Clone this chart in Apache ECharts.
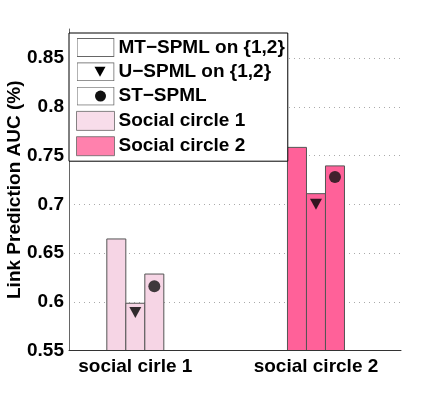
<!DOCTYPE html>
<html>
<head>
<meta charset="utf-8">
<script src="https://cdn.jsdelivr.net/npm/echarts@6/dist/echarts.min.js"></script>
<style>
  html, body { margin: 0; padding: 0; background: #fff; }
  #chart { width: 443px; height: 394px; }
</style>
</head>
<body>
<div id="chart"></div>
<script>
// data
const categories = ['social cirle 1', 'social circle 2']
const mtSpml = [0.665, 0.759]
const uSpml = [0.599, 0.7115]
const stSpml = [0.629, 0.740]
const uMarker = [0.589, 0.700]
const stMarker = [0.616, 0.728]
const yTicks = [0.55, 0.6, 0.65, 0.7, 0.75, 0.8, 0.85]
const yTickLabels = ['0.55', '0.6', '0.65', '0.7', '0.75', '0.8', '0.85']
const legendNames = ['MT\u2212SPML on {1,2}', 'U\u2212SPML on {1,2}', 'ST\u2212SPML', 'Social circle 1', 'Social circle 2']
const groupColors = ['#F6D5E5', '#FF6199']

const FONT = '"Liberation Sans", Arial, Helvetica, sans-serif'
const FONT_SIZE = 19
const yMin = 0.55
const yMax = 0.88

// legend swatches (white box, with optional marker)
const svgIcon = (inner) => 'image://data:image/svg+xml;charset=utf-8,' + encodeURIComponent(
  '<svg xmlns="http://www.w3.org/2000/svg" width="38" height="19" viewBox="0 0 38 19">' +
  '<rect x="0.5" y="0.5" width="37" height="18" fill="#fff" stroke="#666" stroke-width="1"/>' +
  inner + '</svg>')
const iconPlain = svgIcon('')
const iconTri = svgIcon('<polygon points="18,4.5 29,4.5 23.5,14.5" fill="#000"/>')
const iconDot = svgIcon('<circle cx="24" cy="9.5" r="5.5" fill="#111"/>')

const barItems = (vals) => vals.map((v, i) => ({
  value: v,
  itemStyle: { color: groupColors[i] }
}))

const barStyle = {
  type: 'bar',
  xAxisIndex: 1,
  yAxisIndex: 1,
  barWidth: 20,
  barGap: '-5%',
  itemStyle: { borderColor: '#555', borderWidth: 1 },
  clip: true
}

const chart = echarts.init(document.getElementById('chart'), null, { renderer: 'canvas' })

chart.setOption({
  animation: false,
  textStyle: { fontFamily: FONT },
  grid: [
    // frame with the axes
    { left: 69, right: 42, top: 29, bottom: 43.5, outerBoundsMode: 'none' },
    // grid used to place the bar groups
    { left: 45, right: 36.7, top: 29, bottom: 43.5, outerBoundsMode: 'none' }
  ],
  legend: {
    orient: 'vertical',
    left: 69,
    top: 33,
    padding: [5, 3, 5, 7],
    itemGap: 5.3,
    itemWidth: 38,
    itemHeight: 19,
    backgroundColor: '#fff',
    borderColor: '#000',
    borderWidth: 1,
    selectedMode: false,
    textStyle: { fontFamily: FONT, fontSize: FONT_SIZE, fontWeight: 'bold', color: '#000', padding: [0, 0, 0, -1] },
    data: [
      { name: legendNames[0], icon: iconPlain },
      { name: legendNames[1], icon: iconTri },
      { name: legendNames[2], icon: iconDot },
      { name: legendNames[3], icon: 'rect', itemStyle: { color: groupColors[0], borderColor: '#666', borderWidth: 1 } },
      { name: legendNames[4], icon: 'rect', itemStyle: { color: groupColors[1], borderColor: '#666', borderWidth: 1 } }
    ]
  },
  xAxis: [
    {
      type: 'value',
      gridIndex: 0,
      min: 0,
      max: 1,
      axisLine: { show: true, lineStyle: { color: '#333', width: 1 } },
      axisTick: { show: false },
      axisLabel: { show: false },
      splitLine: { show: false },
      z: 3
    },
    {
      type: 'category',
      gridIndex: 1,
      data: categories,
      axisLine: { show: false },
      axisTick: { show: false },
      axisLabel: {
        margin: 7,
        fontFamily: FONT,
        fontSize: FONT_SIZE,
        fontWeight: 'bold',
        color: '#000'
      }
    }
  ],
  yAxis: [
    {
      type: 'value',
      gridIndex: 0,
      min: yMin,
      max: yMax,
      interval: 0.05,
      name: 'Link Prediction AUC (%)',
      nameLocation: 'middle',
      nameGap: 45,
      nameMoveOverlap: false,
      nameTextStyle: { fontFamily: FONT, fontSize: FONT_SIZE, fontWeight: 'bold', color: '#000' },
      axisLine: { show: true, lineStyle: { color: '#666', width: 1 } },
      axisTick: { show: false },
      axisLabel: {
        margin: 5,
        fontFamily: FONT,
        fontSize: FONT_SIZE,
        fontWeight: 'bold',
        color: '#000',
        showMaxLabel: false,
        formatter: (v) => {
          const i = yTicks.findIndex(t => Math.abs(t - v) < 1e-6)
          return i < 0 ? '' : yTickLabels[i]
        }
      },
      splitLine: {
        show: true,
        showMinLine: false,
        showMaxLine: false,
        lineStyle: { color: '#aaa', type: [1, 4], width: 1 }
      }
    },
    {
      type: 'value',
      gridIndex: 1,
      min: yMin,
      max: yMax,
      show: false,
      splitLine: { show: false }
    }
  ],
  series: [
    Object.assign({ name: legendNames[0], data: barItems(mtSpml) }, barStyle),
    Object.assign({ name: legendNames[1], data: barItems(uSpml) }, barStyle),
    Object.assign({ name: legendNames[2], data: barItems(stSpml) }, barStyle),
    {
      name: 'U-SPML marker',
      type: 'scatter',
      xAxisIndex: 1,
      yAxisIndex: 1,
      symbol: 'triangle',
      symbolRotate: 180,
      symbolSize: [12, 11],
      itemStyle: { color: '#000' },
      z: 5,
      data: uMarker
    },
    {
      name: 'ST-SPML marker',
      type: 'scatter',
      xAxisIndex: 1,
      yAxisIndex: 1,
      symbol: 'circle',
      symbolSize: 12,
      symbolOffset: [19, 0],
      itemStyle: { color: '#111' },
      z: 5,
      data: stMarker
    },
    // legend-only entries for the two circle colours
    { name: legendNames[3], type: 'scatter', xAxisIndex: 1, yAxisIndex: 1, itemStyle: { color: groupColors[0] }, data: [] },
    { name: legendNames[4], type: 'scatter', xAxisIndex: 1, yAxisIndex: 1, itemStyle: { color: groupColors[1] }, data: [] }
  ]
})
</script>
</body>
</html>
